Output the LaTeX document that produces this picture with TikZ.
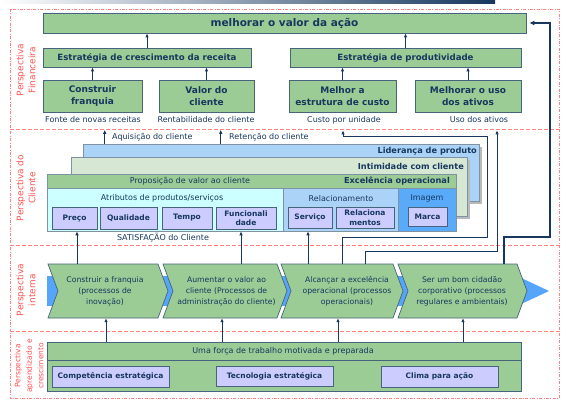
\documentclass[tikz,border=0pt]{standalone}
\usepackage{fontspec}
\setmainfont{DejaVu Sans}
\usetikzlibrary{arrows.meta,calc}

\definecolor{gr}{RGB}{155,204,150}
\definecolor{bd}{RGB}{70,100,125}
\definecolor{nv}{RGB}{23,55,94}
\definecolor{lv}{RGB}{204,204,255}
\definecolor{cy}{RGB}{204,255,255}
\definecolor{lb}{RGB}{171,211,248}
\definecolor{ig}{RGB}{214,232,212}
\definecolor{im}{RGB}{90,170,250}
\definecolor{bandc}{RGB}{85,165,250}
\definecolor{rdt}{RGB}{255,80,80}
\definecolor{rdl}{RGB}{255,130,130}

\newcommand{\fs}[2]{\fontsize{#1}{#2}\selectfont}

\begin{document}
\begin{tikzpicture}[x=1pt,y=-1pt,
  box/.style={draw=bd, fill=gr, line width=0.8pt, inner sep=0pt, text=nv, align=center},
  hbox/.style={box, font=\fs{9}{12}\bfseries},
  lav/.style={draw=bd, fill=lv, line width=0.8pt, inner sep=0pt, text=nv, align=center, font=\fs{7.5}{9.5}\bfseries},
  lbl/.style={text=nv, font=\fs{8}{10}, inner sep=0pt},
  blbl/.style={text=nv, font=\fs{8.2}{10}\bfseries, inner sep=0pt},
  layer/.style={draw=bd!70, line width=0.5pt, inner sep=0pt},
  chev/.style={draw=bd, fill=gr, line width=0.7pt},
  chevtxt/.style={text=nv, font=\fs{7.7}{11}, align=center, inner sep=0pt, minimum height=54pt},
  arr/.style={draw=nv, line width=0.8pt, -{Latex[length=4pt,width=3.5pt]}},
  fb/.style={draw=nv, line width=1.8pt, -{Latex[length=5pt,width=5pt]}},
  persp/.style={text=rdt, rotate=90, align=center, font=\fs{9}{12}, inner sep=0pt},
  border/.style={draw=rdl, line width=0.7pt, dash pattern=on 3pt off 1.5pt on 0.8pt off 1.5pt},
  sep/.style={draw=rdl, line width=0.7pt, dash pattern=on 4pt off 2pt}]
\useasboundingbox (0,0) rectangle (572,409);

% header stripe
\shade[left color=white, right color=nv] (0,0) rectangle (495,4);

% perspective frame and separators
\draw[border] (10,9) rectangle (559,398);
\draw[sep] (10,129) -- (559,129);
\draw[sep] (10,245) -- (559,245);
\draw[sep] (10,331) -- (559,331);

% perspective labels
\node[persp] (pfin) at (26,70) {Perspectiva\\Financeira};
\node[persp] (pcli) at (26,188) {Perspectiva do\\Cliente};
\node[persp] (pint) at (26,290) {Perspectiva\\interna};
\node[persp, font=\fs{7.5}{11.5}] (papr) at (29,366) {Perspectiva\\aprendizado e\\crescimento};

% ---------- financial perspective ----------
\node[box, font=\fs{10.5}{12}\bfseries, minimum width=483pt, minimum height=20pt] (top) at (284.5,23) {melhorar o valor da ação};
\node[box, font=\fs{8.6}{10}\bfseries, minimum width=208pt, minimum height=19pt] (rec) at (147,57.5) {Estratégia de crescimento da receita};
\node[box, font=\fs{8.6}{10}\bfseries, minimum width=231pt, minimum height=19pt] (prod) at (405.5,57.5) {Estratégia de produtividade};
\node[hbox, minimum width=99pt, minimum height=32pt] (cf) at (92.5,96) {Construir\\franquia};
\node[hbox, minimum width=95pt, minimum height=32pt] (vc) at (206.5,96) {Valor do\\cliente};
\node[hbox, minimum width=107pt, minimum height=32pt] (me) at (342.5,96) {Melhor a\\estrutura de custo};
\node[hbox, minimum width=106pt, minimum height=32pt] (mu) at (468,96) {Melhorar o uso\\dos ativos};

\node[lbl] (lfonte) at (93,120) {Fonte de novas receitas};
\node[lbl] (lrent) at (206,120) {Rentabilidade do cliente};
\node[lbl] (lcusto) at (344,120) {Custo por unidade};
\node[lbl] (luso) at (479,120) {Uso dos ativos};

\draw[arr] (cf.north) -- (cf.north |- rec.south);
\draw[arr] (vc.north) -- (vc.north |- rec.south);
\draw[arr] (me.north) -- (me.north |- prod.south);
\draw[arr] (mu.north) -- (mu.north |- prod.south);
\draw[arr] (rec.north) -- (rec.north |- top.south);
\draw[arr] (prod.north) -- (prod.north |- top.south);

% ---------- customer perspective ----------
\fill[gray!55] (85.5,146.5) rectangle (481.5,203.5);
\node[layer, fill=lb, minimum width=396pt, minimum height=57pt] (lid) at (281,172.5) {};
\fill[gray!55] (73.5,159.5) rectangle (469.5,218.5);
\node[layer, fill=ig, minimum width=396pt, minimum height=59pt] (intm) at (269,186.5) {};
\node[layer, fill=gr, minimum width=409pt, minimum height=14pt] (exc) at (251.5,181) {};
\node[layer, fill=cy, minimum width=236pt, minimum height=43pt] (atr) at (165,209.5) {};
\node[layer, fill=lb, minimum width=115pt, minimum height=43pt] (rel) at (340.5,209.5) {};
\node[layer, fill=im, minimum width=58pt, minimum height=43pt] (img) at (427,209.5) {};

\node[blbl, anchor=east] (tlid) at (477,151) {Liderança de produto};
\node[blbl, anchor=east] (tint) at (464,166.5) {Intimidade com cliente};
\node[blbl, anchor=east] (texc) at (450,181) {Excelência operacional};
\node[lbl] (tprop) at (190,181) {Proposição de valor ao cliente};
\node[lbl] (tatr) at (162,198.5) {Atributos de produtos/serviços};
\node[lbl] (trel) at (341,198.5) {Relacionamento};
\node[lbl] (timg) at (427,198.5) {Imagem};

\node[lav, minimum width=45pt, minimum height=22pt] (preco) at (74.5,218) {Preço};
\node[lav, minimum width=57pt, minimum height=22pt] (qual) at (128.5,218) {Qualidade};
\node[lav, minimum width=50pt, minimum height=22pt] (tempo) at (187,218) {Tempo};
\node[lav, minimum width=60pt, minimum height=22pt] (func) at (246,218) {Funcionali\\dade};
\node[lav, minimum width=44pt, minimum height=21pt] (serv) at (310,217.5) {Serviço};
\node[lav, minimum width=58pt, minimum height=21pt] (relm) at (365,217.5) {Relaciona\\mentos};
\node[lav, minimum width=39pt, minimum height=19pt] (marca) at (427.5,216.5) {Marca};

\node[lbl] (tsat) at (163,238) {SATISFAÇÃO do Cliente};
\node[lbl, anchor=west] (taq) at (112,137) {Aquisição do cliente};
\node[lbl, anchor=west] (tret) at (229,137) {Retenção do cliente};

\coordinate (aq) at ($(lid.north west)+(22,0)$);
\coordinate (rt) at ($(lid.north west)+(138,0)$);
\draw[arr] (aq) -- ++(0,-14);
\draw[arr] (rt) -- ++(0,-14);

% ---------- internal perspective ----------
\fill[bandc] (47,276) rectangle (517,306);
\fill[bandc] (517,276) -- (549,291) -- (517,306) -- cycle;

\draw[chev] (48,264) -- (158,264) -- (168,291) -- (158,318) -- (48,318) -- (58,291) -- cycle;
\draw[chev] (163,264) -- (277,264) -- (287,291) -- (277,318) -- (163,318) -- (173,291) -- cycle;
\draw[chev] (281,264) -- (393,264) -- (403,291) -- (393,318) -- (281,318) -- (291,291) -- cycle;
\draw[chev] (398,264) -- (517,264) -- (527,291) -- (517,318) -- (398,318) -- (408,291) -- cycle;

\node[chevtxt] (ch1) at (105,291) {Construir a franquia\\(processos de\\inovação)};
\node[chevtxt] (ch2) at (226.5,291) {Aumentar o valor ao\\cliente (Processos de\\administração do cliente)};
\node[chevtxt] (ch3) at (347,291) {Alcançar a excelência\\operacional (processos\\operacionais)};
\node[chevtxt] (ch4) at (462,291) {Ser um bom cidadão\\corporativo (processos\\regulares e ambientais)};

% internal processes feeding the customer and financial perspectives
\coordinate (p1) at ($(ch1.north)+(-28,0)$);
\coordinate (p2) at ($(ch2.north)+(14.5,0)$);
\coordinate (p3) at ($(ch3.north)+(-39,0)$);
\coordinate (p4) at ($(ch3.north)+(-5,0)$);
\coordinate (p5) at ($(ch3.north)+(18,0)$);
\coordinate (p6) at ($(ch4.north)+(42,0)$);
\draw[arr] (p1) -- (p1 |- atr.south);
\draw[arr] (p2) -- (p2 |- atr.south);
\draw[arr] (p3) -- (p3 |- rel.south);
\draw[arr] (p4) -- ++(0,-26) -- ++(145,0) -- ++(0,-101) -- ++(-144,0) -- ++(0,-6.5);
\draw[arr] (p5) -- ++(0,-12) -- ++(132,0) -- ++(0,-121.5);
\draw[fb, shorten >=3pt] (p6) -- ++(0,-27) -- ++(46,0) |- (top.east);

% ---------- learning and growth perspective ----------
\node[box, minimum width=474pt, minimum height=49pt] (lrn) at (284,366.5) {};
\draw[draw=bd, line width=0.8pt] ($(lrn.north west)+(0,19)$) -- ($(lrn.north east)+(0,19)$);
\node[lbl] (tlrn) at (283,351.5) {Uma força de trabalho motivada e preparada};
\node[lav, minimum width=117pt, minimum height=21pt] (comp) at (110.5,376.5) {Competência estratégica};
\node[lav, minimum width=117pt, minimum height=20pt] (tec) at (274.5,376) {Tecnologia estratégica};
\node[lav, minimum width=117pt, minimum height=21pt] (clima) at (439.5,376.5) {Clima para ação};

\coordinate (q1) at ($(ch1.south)+(1,0)$);
\coordinate (q2) at ($(ch2.south)+(-4.5,0)$);
\coordinate (q3) at ($(ch3.south)+(-9,0)$);
\coordinate (q4) at ($(ch4.south)+(1,0)$);
\draw[arr] (q1 |- lrn.north) -- (q1);
\draw[arr] (q2 |- lrn.north) -- (q2);
\draw[arr] (q3 |- lrn.north) -- (q3);
\draw[arr] (q4 |- lrn.north) -- (q4);
\end{tikzpicture}
\end{document}
